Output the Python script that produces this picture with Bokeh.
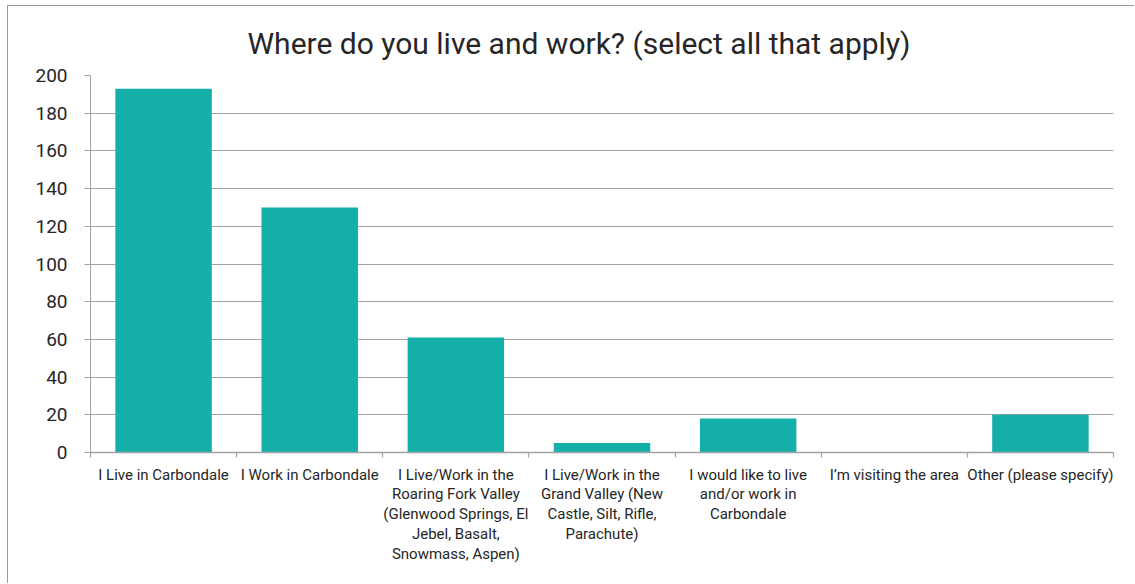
from bokeh.plotting import figure
from bokeh.models import (Range1d, LinearAxis, FixedTicker, SingleIntervalTicker,
                          ColumnDataSource)
from bokeh.embed import file_html
from bokeh.resources import INLINE

title_text = "Where do you live and work? (select all that apply)"
categories = [
    "I Live in Carbondale",
    "I Work in Carbondale",
    "I Live/Work in the\nRoaring Fork Valley\n(Glenwood Springs, El\nJebel, Basalt,\nSnowmass, Aspen)",
    "I Live/Work in the\nGrand Valley (New\nCastle, Silt, Rifle,\nParachute)",
    "I would like to live\nand/or work in\nCarbondale",
    "I\u2019m visiting the area",
    "Other (please specify)",
]
counts = [193, 130, 61, 5, 18, 0, 20]
y_min, y_max, y_step = 0, 200, 20

BAR = "#14AFA9"
GRID = "#a3a3a3"
TEXT = "#262626"
FONT = "Roboto"

n = len(categories)
centers = [i + 0.5 for i in range(n)]
bounds = list(range(n + 1))
source = ColumnDataSource(dict(x=centers, top=counts, label=categories))

p = figure(
    width=1127, height=578,
    x_range=Range1d(0, n),
    y_range=Range1d(y_min, y_max),
    x_axis_location=None,
    output_backend="svg", toolbar_location=None,
    min_border_left=82, min_border_right=22,
    min_border_top=69, min_border_bottom=132,
)
p.styles = {"border-left": "1px solid #9a9a9a", "border-top": "1px solid #9a9a9a",
            "margin-left": "7px", "margin-top": "5px"}
p.outline_line_color = None
p.background_fill_color = "white"
p.border_fill_color = "white"

p.title.text = title_text
p.title.align = "left"
p.title.offset = 157
p.title.text_font = FONT
p.title.text_font_style = "normal"
p.title.text_font_size = "30px"
p.title.text_color = TEXT
p.title.standoff = 29

p.vbar(x="x", top="top", width=0.66, source=source, fill_color=BAR, line_color=None)

# y axis
yax = p.yaxis[0]
yax.ticker = SingleIntervalTicker(interval=y_step)
yax.minor_tick_line_color = None
yax.major_tick_in = 0
yax.major_tick_out = 6
yax.major_tick_line_color = GRID
yax.axis_line_color = GRID
yax.major_label_text_font = FONT
yax.major_label_text_font_size = "19px"
yax.major_label_text_color = TEXT
yax.major_label_standoff = 17

p.ygrid.ticker = SingleIntervalTicker(interval=y_step)
p.ygrid.grid_line_color = GRID
p.ygrid.grid_line_width = 1.2
p.xgrid.visible = False

# category axis: labels at centres, tick marks at category boundaries
cat_axis = LinearAxis(ticker=FixedTicker(ticks=centers, minor_ticks=bounds))
cat_axis.major_label_overrides = {c: lab for c, lab in zip(centers, categories)}
cat_axis.axis_line_color = GRID
cat_axis.axis_line_width = 1.5
cat_axis.major_tick_line_color = None
cat_axis.major_tick_out = 5
cat_axis.major_tick_in = 0
cat_axis.minor_tick_line_color = GRID
cat_axis.minor_tick_line_width = 1.2
cat_axis.minor_tick_out = 5
cat_axis.minor_tick_in = 0
cat_axis.major_label_standoff = 8
cat_axis.major_label_text_font = FONT
cat_axis.major_label_text_font_size = "15px"
cat_axis.major_label_text_color = TEXT
cat_axis.major_label_text_line_height = 1.1
cat_axis.major_label_orientation = "horizontal"
p.add_layout(cat_axis, "below")

open("out.html", "w").write(file_html(p, INLINE))
